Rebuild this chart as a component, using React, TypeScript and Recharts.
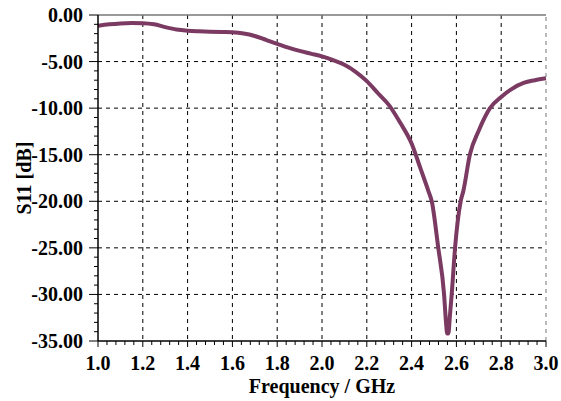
import {
  CartesianGrid,
  Line,
  LineChart,
  ReferenceLine,
  XAxis,
  YAxis
} from "recharts";

// frequency (GHz) and S11 (dB)
const freq = [
  1.0, 1.05, 1.1, 1.15, 1.2, 1.25, 1.3, 1.35, 1.4, 1.45, 1.5, 1.55, 1.6,
  1.65, 1.7, 1.75, 1.8, 1.85, 1.9, 1.95, 2.0, 2.05, 2.1, 2.15, 2.2, 2.25,
  2.3, 2.35, 2.4, 2.44, 2.475, 2.49, 2.519, 2.545, 2.553, 2.559, 2.564,
  2.571, 2.579, 2.594, 2.619, 2.631, 2.66, 2.7, 2.75, 2.8, 2.85, 2.9, 2.95,
  3.0
];
const s11 = [
  -1.15, -1.0, -0.9, -0.86, -0.88, -1.0, -1.3, -1.55, -1.68, -1.75, -1.8,
  -1.83, -1.86, -1.98, -2.25, -2.68, -3.1, -3.5, -3.85, -4.15, -4.45, -4.85,
  -5.35, -6.1, -7.1, -8.4, -9.7, -11.6, -13.8, -16.5, -18.9, -20.0, -25.0,
  -30.0, -32.8, -34.2, -34.2, -32.3, -30.0, -25.0, -20.0, -18.9, -15.0,
  -12.4, -10.0, -8.8, -7.9, -7.3, -7.0, -6.8
];

const xMajor = [1.0, 1.2, 1.4, 1.6, 1.8, 2.0, 2.2, 2.4, 2.6, 2.8, 3.0];
const yMajor = [0, -5, -10, -15, -20, -25, -30, -35];

const xTicks = Array.from({ length: 51 }, (_, i) => +(1 + i * 0.04).toFixed(2));
const yTicks = Array.from({ length: 36 }, (_, i) => -i);

const data = freq.map((f, i) => ({ f, s11: s11[i] }));

const font = "'Liberation Serif', 'Times New Roman', serif";

function isMajor(v: number, list: number[]) {
  return list.some((m) => Math.abs(m - v) < 1e-6);
}

function XTick(props: any) {
  const { x, y, payload } = props;
  const major = isMajor(payload.value, xMajor);
  return (
    <g>
      <line x1={x} x2={x} y1={y} y2={y + (major ? 6 : 4)} stroke="#000" />
      {major && (
        <text
          x={x}
          y={y + 29}
          textAnchor="middle"
          fontFamily={font}
          fontWeight="bold"
          fontSize={20}
          fill="#000"
        >
          {payload.value.toFixed(1)}
        </text>
      )}
    </g>
  );
}

function YTick(props: any) {
  const { x, y, payload } = props;
  const major = isMajor(payload.value, yMajor);
  return (
    <g>
      <line x1={x - (major ? 9 : 4)} x2={x} y1={y} y2={y} stroke="#000" />
      {major && (
        <text
          x={x - 15}
          y={y + 7}
          textAnchor="end"
          fontFamily={font}
          fontWeight="bold"
          fontSize={20}
          fill="#000"
        >
          {payload.value.toFixed(2)}
        </text>
      )}
    </g>
  );
}

export default function App() {
  return (
    <div style={{ position: "absolute", left: 0, top: 0, background: "#fff" }}>
      <LineChart
        width={561}
        height={401}
        data={data}
        margin={{ top: 15, right: 15, bottom: 0, left: 0 }}
      >
        <CartesianGrid
          stroke="#000"
          strokeDasharray="4 4"
          verticalValues={xMajor.slice(1, -1)}
          horizontalValues={yMajor.slice(1, -1)}
        />
        <ReferenceLine x={3} stroke="#777" strokeDasharray="4 4" />
        <ReferenceLine y={0} stroke="#777" strokeWidth={1.5} />
        <XAxis
          type="number"
          dataKey="f"
          domain={[1, 3]}
          ticks={xTicks}
          interval={0}
          height={60}
          tickSize={0}
          tickMargin={0}
          tick={<XTick />}
          axisLine={{ stroke: "#000", strokeWidth: 1.5 }}
          label={{
            value: "Frequency / GHz",
            position: "insideBottom",
            offset: 8,
            fontFamily: font,
            fontWeight: "bold",
            fontSize: 20,
            fill: "#000"
          }}
        />
        <YAxis
          type="number"
          domain={[-35, 0]}
          ticks={yTicks}
          interval={0}
          width={98}
          tickSize={0}
          tickMargin={0}
          tick={<YTick />}
          axisLine={{ stroke: "#000", strokeWidth: 1.5 }}
          label={({ viewBox }: any) => (
            <text
              transform={`translate(31, ${viewBox.y + viewBox.height / 2}) rotate(-90)`}
              textAnchor="middle"
              fontFamily={font}
              fontWeight="bold"
              fontSize={20}
              fill="#000"
            >
              S11 [dB]
            </text>
          )}
        />
        <Line
          type="monotone"
          dataKey="s11"
          stroke="#7b3a62"
          strokeWidth={4}
          dot={false}
          isAnimationActive={false}
        />
      </LineChart>
    </div>
  );
}
